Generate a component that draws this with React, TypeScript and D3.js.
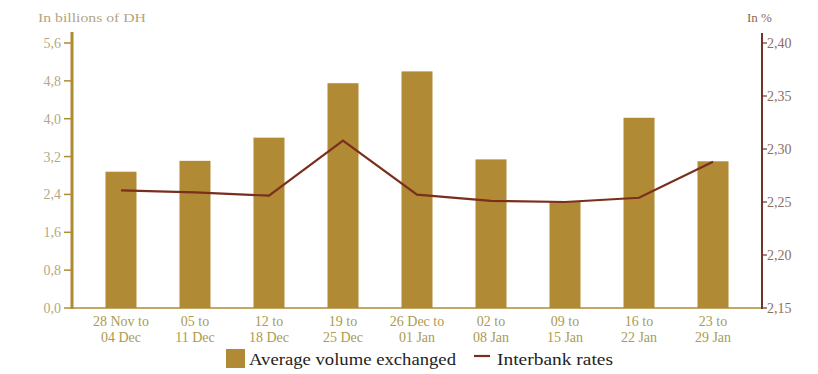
import React from "react";
import * as d3 from "d3";

// Weekly periods (two-line tick labels)
const periodsTop = ["28 Nov to", "05 to", "12 to", "19 to", "26 Dec to", "02 to", "09 to", "16 to", "23 to"];
const periodsBottom = ["04 Dec", "11 Dec", "18 Dec", "25 Dec", "01 Jan", "08 Jan", "15 Jan", "22 Jan", "29 Jan"];

// Average volume exchanged, in billions of DH
const volumes = [2.88, 3.11, 3.6, 4.75, 5.0, 3.14, 2.24, 4.02, 3.1];

// Interbank rates, in %
const rates = [2.261, 2.259, 2.256, 2.308, 2.257, 2.251, 2.25, 2.254, 2.288];

const leftTicks = [0, 0.8, 1.6, 2.4, 3.2, 4.0, 4.8, 5.6];
const rightTicks = [2.15, 2.2, 2.25, 2.3, 2.35, 2.4];

const W = 818;
const H = 374;
const X0 = 72;
const X1 = 762;
const YB = 308;
const YT = 43;

const BAR = "#b08a34";
const LINE = "#7a2e1c";
const RAXIS = "#6e3628";
const SERIF = "'Liberation Serif', 'DejaVu Serif', serif";

export default function App() {
  const x = d3
    .scaleBand<number>()
    .domain(d3.range(volumes.length))
    .range([X0, X1])
    .paddingInner(0.581)
    .paddingOuter(0.4525);

  const yL = d3.scaleLinear().domain([0, 5.6]).range([YB, YT]);
  const yR = d3.scaleLinear().domain([2.15, 2.4]).range([YB, YT]);

  const cx = (i: number) => (x(i) as number) + x.bandwidth() / 2;

  const line = d3
    .line<number>()
    .x((_, i) => cx(i))
    .y((d) => yR(d));

  const fmtL = (v: number) => v.toFixed(1).replace(".", ",");
  const fmtR = (v: number) => v.toFixed(2).replace(".", ",");

  return (
    <svg
      width={W}
      height={H}
      style={{ position: "absolute", left: 0, top: 0, background: "#fff" }}
      fontFamily={SERIF}
    >
      {/* axis titles */}
      <text x={38} y={22} fontSize={13} fill="#b3a57f" textLength={108} lengthAdjust="spacingAndGlyphs">
        In billions of DH
      </text>
      <text x={747} y={22} fontSize={13} fill="#8a6656">
        In %
      </text>

      {/* bars */}
      {volumes.map((v, i) => (
        <rect
          key={i}
          x={x(i)}
          y={yL(v)}
          width={x.bandwidth()}
          height={YB - yL(v)}
          fill={BAR}
        />
      ))}

      {/* baseline */}
      <line x1={X0} x2={X1} y1={YB} y2={YB} stroke={BAR} strokeWidth={1.5} />

      {/* left axis */}
      <line x1={X0} x2={X0} y1={32} y2={YB + 1} stroke={BAR} strokeWidth={3} />
      {leftTicks.map((t) => (
        <g key={t}>
          <line x1={X0 - 8} x2={X0} y1={yL(t)} y2={yL(t)} stroke={BAR} strokeWidth={1.5} />
          <text x={X0 - 11} y={yL(t) + 5} fontSize={14} textAnchor="end" fill="#b5a887">
            {fmtL(t)}
          </text>
        </g>
      ))}

      {/* right axis */}
      <line x1={X1} x2={X1} y1={33} y2={YB + 1} stroke={RAXIS} strokeWidth={2} />
      {rightTicks.map((t) => (
        <g key={t}>
          <line x1={X1} x2={X1 + 5} y1={yR(t)} y2={yR(t)} stroke={RAXIS} strokeWidth={1.2} />
          <text x={X1 + 5} y={yR(t) + 5} fontSize={14} fill="#8c6e60">
            {fmtR(t)}
          </text>
        </g>
      ))}

      {/* rate line */}
      <path d={line(rates) ?? ""} fill="none" stroke={LINE} strokeWidth={2.2} />

      {/* category labels */}
      {periodsTop.map((p, i) => (
        <text key={i} x={cx(i)} fontSize={14} textAnchor="middle" fill="#aa9b50">
          <tspan x={cx(i)} y={326}>{p}</tspan>
          <tspan x={cx(i)} y={342}>{periodsBottom[i]}</tspan>
        </text>
      ))}

      {/* legend */}
      <rect x={226} y={349} width={19} height={19} fill={BAR} />
      <text x={249} y={365} fontSize={17} fill="#222" textLength={207} lengthAdjust="spacingAndGlyphs">
        Average volume exchanged
      </text>
      <line x1={474} x2={490} y1={356} y2={356} stroke={LINE} strokeWidth={2.2} />
      <text x={497} y={365} fontSize={17} fill="#222" textLength={116} lengthAdjust="spacingAndGlyphs">
        Interbank rates
      </text>
    </svg>
  );
}
